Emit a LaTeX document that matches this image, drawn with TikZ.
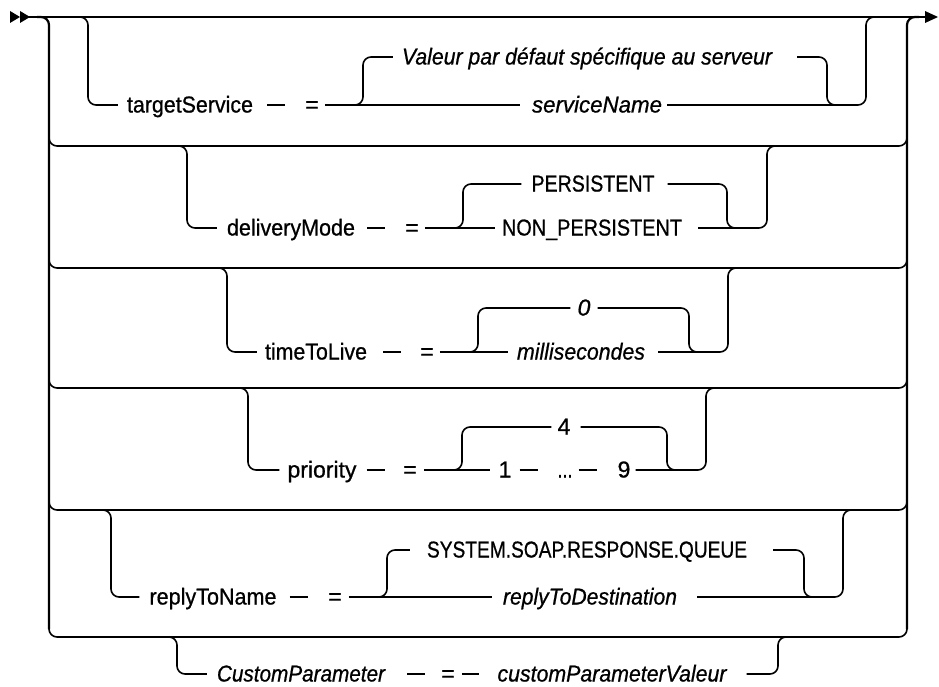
\documentclass[tikz,border=0pt]{standalone}
\usepackage{graphicx}
\usepackage{fontspec}
\setmainfont{Liberation Sans}[FakeBold=0.8]
\newcommand{\fitw}[2]{\resizebox{#1pt}{\height}{#2}}
\begin{document}
\begin{tikzpicture}[x=1pt,y=-1pt,
  ln/.style={line width=1.6pt, rounded corners=8pt},
  vln/.style={line width=2.2pt, rounded corners=8pt},
  t/.style={anchor=center, inner sep=0pt, text height=15pt, text depth=0pt, font=\fontsize{23}{26}\selectfont},
  ti/.style={t, font=\fontsize{23}{26}\selectfont\itshape}]
\useasboundingbox (0,0) rectangle (939,687);

% start and end markers
\fill (10,11) -- (20,17) -- (10,23) -- cycle;
\fill (20,11) -- (30,17) -- (20,23) -- cycle;
\coordinate (start) at (28,17);
\coordinate (finish) at (926,17);
\draw[ln] (start) -- (finish);
\fill (925,11) -- (938,17) -- (925,23) -- cycle;

% outer frame
\draw[vln] (37,17) -- (49,17) -- (49,629);
\draw[ln] (49,622) -- (49,637) -- (907,637) -- (907,622);
\draw[vln] (907,629) -- (907,17) -- (919,17);
\foreach \yy in {146,268,388,510}{
  \draw[ln] (49,\yy-14) -- (49,\yy) -- (907,\yy) -- (907,\yy-14);
}

% Row 1: targetService
\node[t] (ts) at (190,105) {\fitw{126}{targetService}};
\node[t] (eq1) at (312,105) {=};
\node[ti] (v1) at (587,57) {\fitw{370}{Valeur par défaut spécifique au serveur}};
\node[ti] (sn) at (597,105) {\fitw{130}{serviceName}};
\draw[ln] (76,17) -- (88,17) -- (88,105) -- ([xshift=-9pt]ts.west);
\draw[ln] ([xshift=14pt]ts.east) -- ([xshift=-20pt]eq1.west);
\draw[ln] ([xshift=6pt]eq1.east) -- ([xshift=-12pt]sn.west);
\draw[ln] (347,105) -- (363,105) -- (363,57) -- ([xshift=-9pt]v1.west);
\draw[ln] ([xshift=25pt]v1.east) -- (827,57) -- (827,105) -- (835,105);
\draw[ln] ([xshift=5pt]sn.east) -- (866,105) -- (866,17) -- (878,17);

% Row 2: deliveryMode
\node[t] (dm) at (291,228) {\fitw{128}{deliveryMode}};
\node[t] (eq2) at (412,228) {=};
\node[t] (pe) at (593,184) {\fitw{123}{PERSISTENT}};
\node[t] (np) at (592,228) {\fitw{180}{NON\_PERSISTENT}};
\draw[ln] (175,146) -- (187,146) -- (187,228) -- ([xshift=-10pt]dm.west);
\draw[ln] ([xshift=12pt]dm.east) -- ([xshift=-20pt]eq2.west);
\draw[ln] ([xshift=6pt]eq2.east) -- ([xshift=-7pt]np.west);
\draw[ln] (447,228) -- (463,228) -- (463,184) -- ([xshift=-10pt]pe.west);
\draw[ln] ([xshift=13pt]pe.east) -- (727,184) -- (727,228) -- (735,228);
\draw[ln] ([xshift=16pt]np.east) -- (767,228) -- (767,146) -- (779,146);

% Row 3: timeToLive
\node[t] (tl) at (316,352) {\fitw{102}{timeToLive}};
\node[t] (eq3) at (427,352) {=};
\node[ti] (z) at (584,308) {0};
\node[ti] (ms) at (581,352) {\fitw{128}{millisecondes}};
\draw[ln] (215,268) -- (227,268) -- (227,352) -- ([xshift=-8pt]tl.west);
\draw[ln] ([xshift=16pt]tl.east) -- ([xshift=-19pt]eq3.west);
\draw[ln] ([xshift=6pt]eq3.east) -- ([xshift=-9pt]ms.west);
\draw[ln] (462,352) -- (478,352) -- (478,308) -- ([xshift=-7pt]z.west);
\draw[ln] ([xshift=7pt]z.east) -- (689,308) -- (689,352) -- (697,352);
\draw[ln] ([xshift=13pt]ms.east) -- (728,352) -- (728,268) -- (740,268);

% Row 4: priority
\node[t] (pr) at (322,470) {\fitw{69}{priority}};
\node[t] (eq4) at (410,470) {=};
\node[t] (f) at (564,427) {4};
\node[t] (o1) at (505,470) {1};
\node[t] (dots) at (565,470) {\fitw{15}{...}};
\node[t] (n9) at (624,470) {9};
\draw[ln] (236,388) -- (248,388) -- (248,470) -- ([xshift=-8pt]pr.west);
\draw[ln] ([xshift=10pt]pr.east) -- ([xshift=-18pt]eq4.west);
\draw[ln] ([xshift=7pt]eq4.east) -- ([xshift=-8pt]o1.west);
\draw[ln] (446,470) -- (462,470) -- (462,427) -- ([xshift=-6pt]f.west);
\draw[ln] ([xshift=10pt]f.east) -- (667,427) -- (667,470) -- (675,470);
\draw[ln] ([xshift=8pt]o1.east) -- ([xshift=-19pt]dots.west);
\draw[ln] ([xshift=6pt]dots.east) -- ([xshift=-20pt]n9.west);
\draw[ln] ([xshift=5pt]n9.east) -- (706,470) -- (706,388) -- (718,388);

% Row 5: replyToName
\node[t] (rn) at (213,597) {\fitw{127}{replyToName}};
\node[t] (eq5) at (335,597) {=};
\node[t] (sq) at (587,550) {\fitw{320}{SYSTEM.SOAP.RESPONSE.QUEUE}};
\node[ti] (rd) at (590,597) {\fitw{174}{replyToDestination}};
\draw[ln] (99,510) -- (111,510) -- (111,597) -- ([xshift=-10pt]rn.west);
\draw[ln] ([xshift=13pt]rn.east) -- ([xshift=-20pt]eq5.west);
\draw[ln] ([xshift=7pt]eq5.east) -- ([xshift=-11pt]rd.west);
\draw[ln] (371,597) -- (387,597) -- (387,550) -- ([xshift=-17pt]sq.west);
\draw[ln] ([xshift=26pt]sq.east) -- (804,550) -- (804,597) -- (812,597);
\draw[ln] ([xshift=20pt]rd.east) -- (843,597) -- (843,510) -- (855,510);

% Row 6: CustomParameter
\node[ti] (cp) at (301,674) {\fitw{168}{CustomParameter}};
\node[t] (eq6) at (448,674) {=};
\node[ti] (cv) at (612,674) {\fitw{229}{customParameterValeur}};
\draw[ln] (165,637) -- (177,637) -- (177,674) -- ([xshift=-10pt]cp.west);
\draw[ln] ([xshift=22pt]cp.east) -- ([xshift=-16pt]eq6.west);
\draw[ln] ([xshift=7pt]eq6.east) -- ([xshift=-18pt]cv.west);
\draw[ln] ([xshift=20pt]cv.east) -- (778,674) -- (778,637) -- (790,637);
\end{tikzpicture}
\end{document}
